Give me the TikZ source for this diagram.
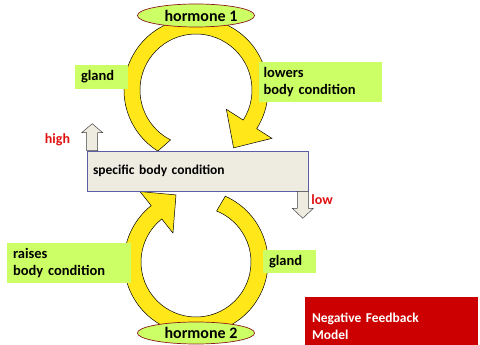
\documentclass[tikz,border=0pt]{standalone}
\usepackage{fontspec}
\setmainfont{Carlito}
\usepackage{tikz}
\usetikzlibrary{positioning, calc, shapes.geometric}
\definecolor{ringyellow}{HTML}{FFE71A}
\definecolor{labelgreen}{HTML}{CCFF66}
\definecolor{condfill}{HTML}{EEECE1}
\definecolor{conddraw}{HTML}{5B5EA6}
\definecolor{hormborder}{HTML}{8B1C1C}
\definecolor{levelred}{HTML}{E01010}
\definecolor{modelred}{HTML}{CC0000}
\tikzset{
  % --- loop arrows ---
  ringarrow/.style={draw=black, fill=ringyellow, line width=0.5pt, line join=miter},
  % --- hormone ellipses ---
  hormone/.style={draw=hormborder, fill=labelgreen, ellipse, line width=0.7pt,
    font=\fontsize{16}{18}\selectfont\bfseries, inner sep=0pt},
  % --- green labels ---
  glandlabel/.style={fill=labelgreen, align=left, inner xsep=6pt, inner ysep=0pt,
    font=\fontsize{14.5}{17}\selectfont\bfseries},
  % --- condition box and level arrows ---
  condbox/.style={draw=conddraw, fill=condfill, line width=0.6pt, align=left,
    font=\fontsize{13.5}{15}\selectfont\bfseries, inner xsep=6pt},
  blockarrow/.style={draw=black!75, fill=condfill, line width=0.5pt},
  levellabel/.style={text=levelred, font=\fontsize{14}{16}\selectfont\bfseries},
  modelbox/.style={fill=modelred, text=white, align=left, inner xsep=7pt,
    font=\fontsize{13.5}{17}\selectfont\bfseries},
}

\begin{document}
\begin{tikzpicture}[x=1pt, y=1pt]
    \useasboundingbox (0,0) rectangle (480,345);
    % ring centres
    \coordinate (c1) at (196,255);
    \coordinate (c2) at (196,83);
    % upper loop: gland -> hormone 1 -> lowers
    \draw[ringarrow] ($(c1)+(238:72pt)$) arc[start angle=238, end angle=-32.5, radius=72pt]
      -- ($(c1)+(-32.5:90pt)$) -- ($(c1)+(-57:69pt)$) -- ($(c1)+(-32.5:36pt)$)
      -- ($(c1)+(-32.5:56pt)$) arc[start angle=-32.5, end angle=243, radius=56pt] -- cycle;
    % lower loop: gland -> hormone 2 -> raises
    \draw[ringarrow] ($(c2)+(66:72pt)$) arc[start angle=66, end angle=-231.5, radius=72pt]
      -- ($(c2)+(128.5:90pt)$) -- ($(c2)+(106.6:70pt)$) -- ($(c2)+(128.5:37pt)$)
      -- ($(c2)+(128.5:55pt)$) arc[start angle=-231.5, end angle=68, radius=55pt] -- cycle;
    % hormones
    \node[hormone, minimum width=108pt, minimum height=23pt] (h1) at (196,329.5) {\hspace*{10pt}hormone 1};
    \node[hormone, minimum width=108pt, minimum height=22pt] (h2) at (196,12) {\hspace*{10pt}hormone 2};
    % condition box with high / low arrows
    \node[condbox, minimum height=40pt, text width=209pt] (cond) at (197.5,174) {specific body condition};
    \draw[blockarrow] (cond.north west) -- ++(0,18) -- ++(-5,0) -- ++(10.5,9)
      -- ++(10.5,-9) -- ++(-5,0) -- ++(0,-18) -- cycle;
    \draw[blockarrow] (cond.south east) -- ++(0,-17) -- ++(5,0) -- ++(-10.5,-10)
      -- ++(-10.5,10) -- ++(5,0) -- ++(0,17) -- cycle;
    \node[levellabel] (high) at (57.5,205) {high};
    \node[levellabel] (low) at (322,145) {low};
    % labels
    \node[glandlabel, minimum height=24pt, text width=41pt] (gl1) at (101.5,268) {gland};
    \node[glandlabel, minimum height=40pt, text width=113pt, inner xsep=5pt] (lower) at (320,263)
      {lowers\\body condition};
    \node[glandlabel, minimum height=40pt, text width=112pt] (raise) at (69,82)
      {raises\\body condition};
    \node[glandlabel, minimum height=23pt, text width=41pt] (gl2) at (289.5,83.5) {gland};
    \node[modelbox, minimum height=48pt, text width=159pt, text depth=6pt] (model) at (391.5,24)
      {Negative Feedback\\Model};
  \end{tikzpicture}
\end{document}
